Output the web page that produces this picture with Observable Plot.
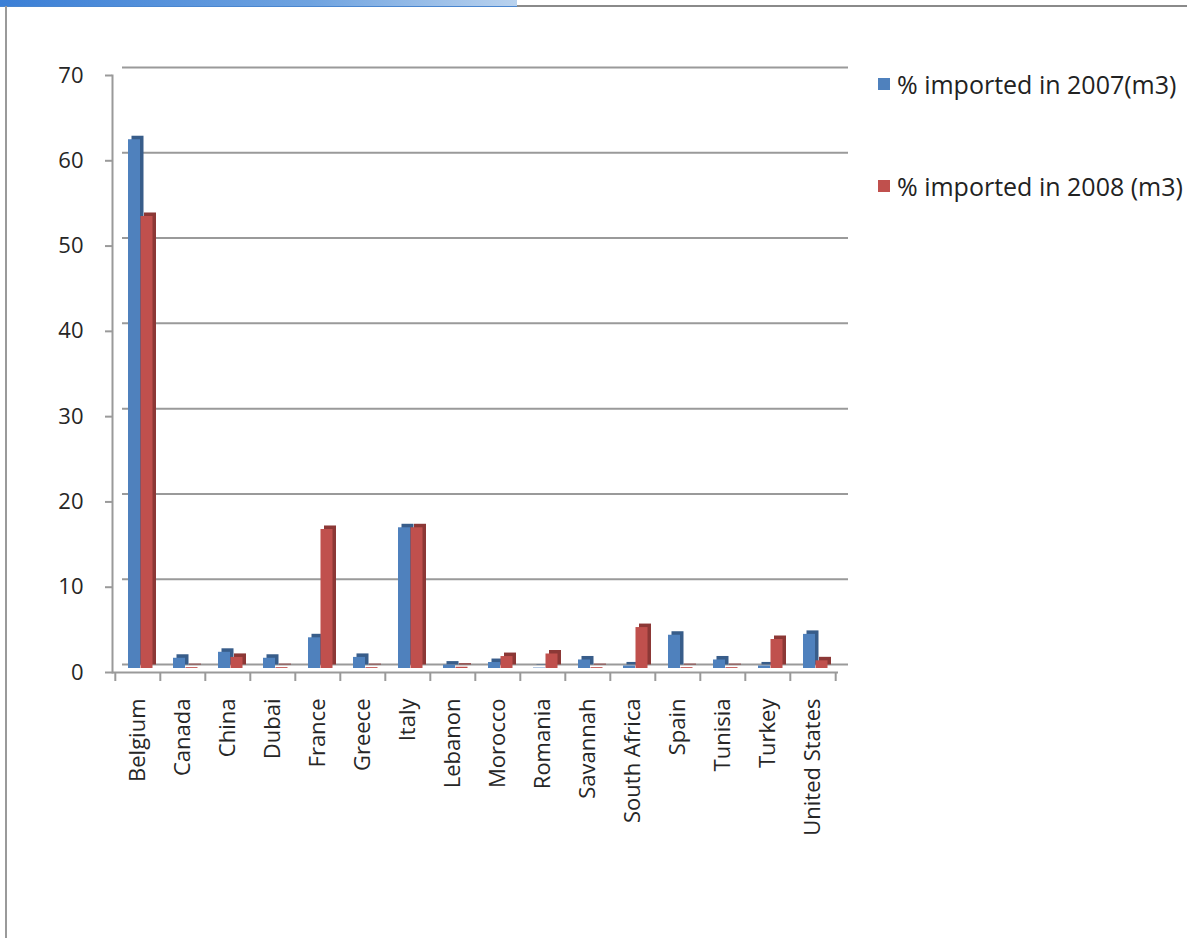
<!DOCTYPE html>
<html>
<head>
<meta charset="utf-8">
<script src="https://cdn.jsdelivr.net/npm/d3@7"></script>
<script src="https://cdn.jsdelivr.net/npm/@observablehq/plot@0.6"></script>
<style>
  html, body { margin: 0; padding: 0; background: #fff; }
  body { width: 1187px; height: 938px; position: relative; overflow: hidden; font-family: "Open Sans", Lato, sans-serif; }
  #chart { position: absolute; left: 0; top: 0; }
  .topbar { position: absolute; left: 0; top: 0; width: 517px; height: 6px; background: linear-gradient(to right, #3b7fd6, #6fa3e0 60%, #b9d2ee); border-bottom: 1px solid #4a86cf; }
  .topline { position: absolute; left: 517px; top: 5px; right: 0; height: 2px; background: #8a8a8a; }
  .leftline { position: absolute; left: 5px; top: 6px; width: 2px; bottom: 0; background: #9a9a9a; }
  .legend { position: absolute; left: 878px; font-size: 25px; color: #222; }
  .legend .row { position: absolute; left: 0; white-space: nowrap; display: flex; align-items: center; }
  .legend .sw { width: 12px; height: 12px; margin-right: 7px; }
</style>
</head>
<body>
<div class="topbar"></div>
<div class="topline"></div>
<div class="leftline"></div>
<div id="chart"></div>
<div class="legend" id="legend"></div>
<script>
const countries = ["Belgium","Canada","China","Dubai","France","Greece","Italy","Lebanon","Morocco","Romania","Savannah","South Africa","Spain","Tunisia","Turkey","United States"];
const pct2007 = [62, 1.2, 1.9, 1.2, 3.6, 1.3, 16.5, 0.4, 0.7, 0.05, 1.0, 0.3, 3.9, 1.0, 0.3, 4.0];
const pct2008 = [53, 0.1, 1.3, 0.1, 16.3, 0.1, 16.5, 0.15, 1.4, 1.7, 0.1, 4.8, 0.1, 0.1, 3.4, 0.9];
const seriesNames = ["% imported in 2007(m3)", "% imported in 2008 (m3)"];
const yTicks = [0, 10, 20, 30, 40, 50, 60, 70];

const colors = { front: ["#4F81BD", "#C0504D"], side: ["#385D8A", "#8C3836"] };

const rows2007 = countries.map((c, i) => ({country: c, value: pct2007[i]}));
const rows2008 = countries.map((c, i) => ({country: c, value: pct2008[i]}));

const W = 1187, H = 938;
const mLeft = 112, mRight = 349, mTop = 75, mBottom = 266;
const bw = (W - mLeft - mRight) / countries.length;
const depthX = 10, depthY = -8;
const grid = "#9a9a9a";

const chart = Plot.plot({
  width: W,
  height: H,
  marginLeft: mLeft,
  marginRight: mRight,
  marginTop: mTop,
  marginBottom: mBottom,
  style: { fontFamily: "'Open Sans', Lato, sans-serif", fontSize: "22px", color: "#262626", background: "transparent" },
  x: { type: "band", domain: countries, padding: 0, label: null },
  y: { domain: [0, 70], label: null },
  marks: [
    Plot.ruleY(yTicks, { dx: depthX, dy: depthY, stroke: grid, strokeWidth: 2 }),
    Plot.ruleY([0], { stroke: grid, strokeWidth: 2 }),
    Plot.frame({ anchor: "left", stroke: grid, strokeWidth: 2 }),
    Plot.axisY({ ticks: yTicks, tickSize: 7, tickPadding: 22, stroke: grid, strokeWidth: 2, fontSize: 22 }),
    Plot.axisX({ ticks: countries, tickSize: 9, tickFormat: () => "", dx: -bw / 2, stroke: grid, strokeWidth: 2 }),
    Plot.axisX({ ticks: countries.slice(-1), tickSize: 9, tickFormat: () => "", dx: bw / 2, stroke: grid, strokeWidth: 2 }),
    Plot.axisX({ tickSize: 0, tickPadding: 26, tickRotate: -90, fontSize: 22 }),
    Plot.barY(rows2007, { x: "country", y: "value", insetLeft: 13, insetRight: 20, dx: 3.5, dy: -7.5, fill: colors.side[0] }),
    Plot.barY(rows2007, { x: "country", y: "value", insetLeft: 13, insetRight: 20, dy: -4, fill: colors.front[0] }),
    Plot.barY(rows2008, { x: "country", y: "value", insetLeft: 25.5, insetRight: 7.5, dx: 3.5, dy: -7.5, fill: colors.side[1] }),
    Plot.barY(rows2008, { x: "country", y: "value", insetLeft: 25.5, insetRight: 7.5, dy: -4, fill: colors.front[1] })
  ]
});
document.getElementById("chart").appendChild(chart);

const legend = document.getElementById("legend");
const legendTops = [67, 169];
seriesNames.forEach((name, i) => {
  const row = document.createElement("div");
  row.className = "row";
  row.style.top = legendTops[i] + "px";
  const sw = document.createElement("span");
  sw.className = "sw";
  sw.style.background = colors.front[i];
  const t = document.createElement("span");
  t.textContent = name;
  row.appendChild(sw);
  row.appendChild(t);
  legend.appendChild(row);
});
</script>
</body>
</html>
